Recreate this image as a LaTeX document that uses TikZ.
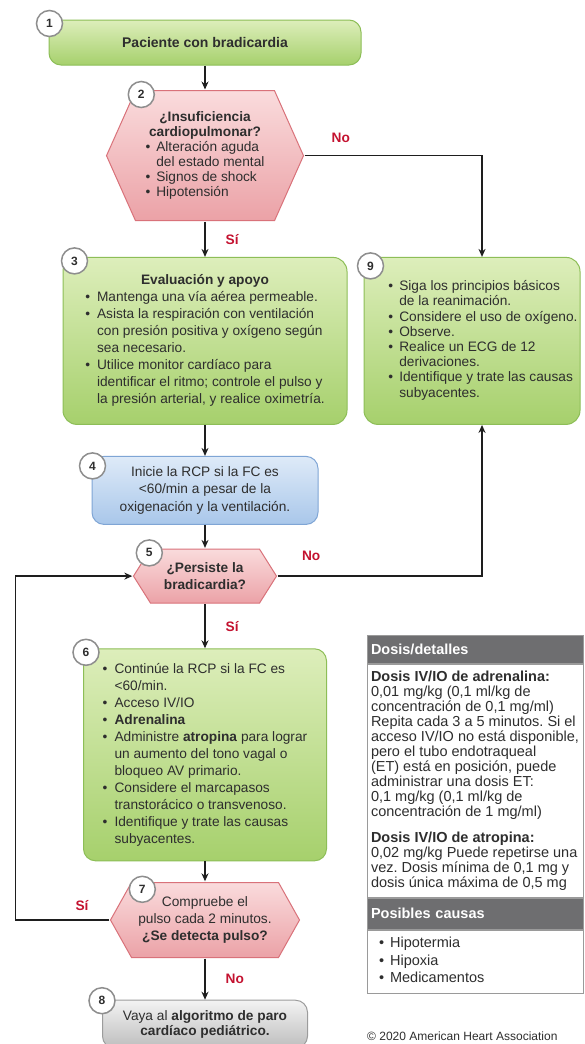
\documentclass[tikz,border=0pt]{standalone}
\usepackage{fontspec}
\setmainfont{Liberation Sans}
\usetikzlibrary{arrows.meta,positioning,calc,shapes}
\frenchspacing

\definecolor{gTop}{HTML}{DDEEBB}
\definecolor{gBot}{HTML}{A6D06C}
\definecolor{gLine}{HTML}{8DBE57}
\definecolor{rTop}{HTML}{FADCDD}
\definecolor{rBot}{HTML}{EBA1A6}
\definecolor{rLine}{HTML}{D9727A}
\definecolor{bTop}{HTML}{DEEAF8}
\definecolor{bBot}{HTML}{A9C7EA}
\definecolor{bLine}{HTML}{7FA5D5}
\definecolor{yTop}{HTML}{F3F3F3}
\definecolor{yBot}{HTML}{BDBDBD}
\definecolor{yLine}{HTML}{9C9C9C}
\definecolor{pHead}{HTML}{6E6E70}
\definecolor{pLine}{HTML}{9A9A9A}
\definecolor{cLine}{HTML}{8E8E8E}
\definecolor{lblc}{HTML}{C41230}
\definecolor{txt}{HTML}{2E2E2E}
\definecolor{arrc}{HTML}{1E1E1E}

\tikzset{hexa/.style={inner sep=0pt, align=center, text=txt,
  font=\fontsize{13.7}{17}\selectfont,
  path picture={
    \path[draw=rLine, line width=1pt, top color=rTop, bottom color=rBot]
      ([xshift=1pt]path picture bounding box.west)
      -- ([shift={(#1,-1pt)}]path picture bounding box.north west)
      -- ([shift={(-#1,-1pt)}]path picture bounding box.north east)
      -- ([xshift=-1pt]path picture bounding box.east)
      -- ([shift={(-#1,1pt)}]path picture bounding box.south east)
      -- ([shift={(#1,1pt)}]path picture bounding box.south west) -- cycle;}}}

\begin{document}
\begin{tikzpicture}[x=1pt,y=1pt,>={Stealth[length=8pt,width=7pt]}]
\tikzstyle{box}=[rounded corners=12pt, inner sep=0pt, line width=1pt, align=center, text=txt, font=\fontsize{13.7}{17}\selectfont]
\tikzstyle{gbox}=[box, draw=gLine, top color=gTop, bottom color=gBot]
\tikzstyle{bbox}=[box, draw=bLine, top color=bTop, bottom color=bBot]
\tikzstyle{ybox}=[box, draw=yLine, top color=yTop, bottom color=yBot]
\tikzstyle{num}=[circle, draw=cLine, line width=1.5pt, fill=white, minimum size=26pt, inner sep=0pt, text=txt, font=\fontsize{12}{12}\selectfont\bfseries]
\tikzstyle{lbl}=[inner sep=0pt, text=lblc, font=\fontsize{13.7}{15}\selectfont\bfseries]
\tikzstyle{arr}=[->, line width=1.4pt, draw=arrc]
\tikzstyle{phead}=[fill=pHead, draw=pLine, line width=1pt, text=white, font=\fontsize{14.5}{15}\selectfont\bfseries, minimum width=216pt, text width=208pt, align=left, inner sep=0pt]
\tikzstyle{pbody}=[draw=pLine, line width=1pt, fill=white, text=txt, minimum width=216pt, inner sep=0pt, align=left]

\path[use as bounding box, fill=white] (0,0) rectangle (584,-1044);

% main column
\node[gbox, minimum width=312pt, minimum height=45pt, font=\fontsize{14}{17}\selectfont\bfseries] (n1) at (205,-42.5) {Paciente con bradicardia};
\node[hexa=30pt, minimum width=199pt, minimum height=132pt, font=\fontsize{13.7}{15}\selectfont] (n2) [below=24pt of n1] {%
\begin{tabular}{@{}l@{\hspace{6pt}}l@{}}
\multicolumn{2}{@{}c@{}}{\bfseries ¿Insuficiencia}\\
\multicolumn{2}{@{}c@{}}{\bfseries cardiopulmonar?}\\
\textbullet & Alteración aguda\\
 & del estado mental\\
\textbullet & Signos de shock\\
\textbullet & Hipotensión
\end{tabular}};
\node[gbox, minimum width=284pt, minimum height=167pt, rounded corners=14pt] (n3) [below=35pt of n2] {%
\begin{tabular}{@{}l@{\hspace{7pt}}l@{}}
\multicolumn{2}{@{}c@{}}{\bfseries Evaluación y apoyo}\\
\textbullet & Mantenga una vía aérea permeable.\\
\textbullet & Asista la respiración con ventilación\\
 & con presión positiva y oxígeno según\\
 & sea necesario.\\
\textbullet & Utilice monitor cardíaco para\\
 & identificar el ritmo; controle el pulso y\\
 & la presión arterial, y realice oximetría.
\end{tabular}};
\node[gbox, minimum width=216pt, minimum height=167pt, rounded corners=14pt, font=\fontsize{13.7}{15.2}\selectfont] (n9) [right=16pt of n3.north east, anchor=north west] {%
\hspace*{22pt}\begin{tabular}{@{}l@{\hspace{6pt}}l@{}}
\textbullet & Siga los principios básicos\\
 & de la reanimación.\\
\textbullet & Considere el uso de oxígeno.\\
\textbullet & Observe.\\
\textbullet & Realice un ECG de 12\\
 & derivaciones.\\
\textbullet & Identifique y trate las causas\\
 & subyacentes.
\end{tabular}};
\node[bbox, minimum width=226pt, minimum height=68pt, font=\fontsize{13.7}{17.5}\selectfont] (n4) [below=31pt of n3] {Inicie la RCP si la FC es\\<60/min a pesar de la\\oxigenación y la ventilación.};
\node[hexa=18pt, minimum width=145pt, minimum height=56pt, font=\fontsize{13.7}{17}\selectfont\bfseries] (n5) [below=23pt of n4] {¿Persiste la\\bradicardia?};
\node[gbox, minimum width=243pt, minimum height=212pt] (n6) [below=44pt of n5] {%
\begin{tabular}{@{}l@{\hspace{7pt}}l@{}}
\textbullet & Continúe la RCP si la FC es\\
 & <60/min.\\
\textbullet & Acceso IV/IO\\
\textbullet & \textbf{Adrenalina}\\
\textbullet & Administre \textbf{atropina} para lograr\\
 & un aumento del tono vagal o\\
 & bloqueo AV primario.\\
\textbullet & Considere el marcapasos\\
 & transtorácico o transvenoso.\\
\textbullet & Identifique y trate las causas\\
 & subyacentes.
\end{tabular}};
\node[hexa=22pt, minimum width=191pt, minimum height=77pt] (n7) [below=20pt of n6] {Compruebe el\\pulso cada 2 minutos.\\\textbf{¿Se detecta pulso?}};
\node[ybox, minimum width=205pt, minimum height=48pt, font=\fontsize{13.7}{15}\selectfont] (n8) [below=41pt of n7] {Vaya al \textbf{algoritmo de paro}\\\textbf{cardíaco pediátrico.}};

% side panel
\node[phead, minimum height=28pt] (hdose) at (475,-649) {Dosis/detalles};
\node[pbody, minimum height=233pt, font=\fontsize{14.5}{15}\selectfont] (tdose) [below=0pt of hdose] {%
\textbf{Dosis IV/IO de adrenalina:}\\
0,01 mg/kg (0,1 ml/kg de\\
concentración de 0,1 mg/ml)\\
Repita cada 3 a 5 minutos. Si el\\
acceso IV/IO no está disponible,\\
pero el tubo endotraqueal\\
(ET) está en posición, puede\\
administrar una dosis ET:\\
0,1 mg/kg (0,1 ml/kg de\\
concentración de 1 mg/ml)\\[11pt]
\textbf{Dosis IV/IO de atropina:}\\
0,02 mg/kg Puede repetirse una\\
vez. Dosis mínima de 0,1 mg y\\
dosis única máxima de 0,5 mg};
\node[phead, minimum height=31pt] (hcause) [below=0pt of tdose] {Posibles causas};
\node[pbody, minimum height=63pt, text width=192pt, font=\fontsize{14.5}{17.5}\selectfont] (tcause) [below=0pt of hcause] {%
\begin{tabular}{@{}l@{\hspace{6pt}}l@{}}
\textbullet & Hipotermia\\
\textbullet & Hipoxia\\
\textbullet & Medicamentos
\end{tabular}};
\node[anchor=base west, inner sep=0pt, text=txt, font=\fontsize{12}{14}\selectfont] (copy) at (367,-1040) {© 2020 American Heart Association};

% connectors
\draw[arr] (n1) -- (n2);
\draw[arr] (n2) -- node[lbl, right=20pt] {Sí} (n3);
\draw[arr] (n2.east) -| node[lbl, pos=0.102, above=12pt] {No} ([xshift=10pt]n9.north);
\draw[arr] (n3) -- (n4);
\draw[arr] (n4) -- (n5);
\draw[arr] (n5.east) -| node[lbl, pos=0.082, above=15pt] {No} ([xshift=10pt]n9.south);
\draw[arr] (n5) -- node[lbl, right=20pt] {Sí} (n6);
\draw[arr] (n6) -- (n7);
\draw[arr] (n7) -- node[lbl, right=20pt] {No} (n8);
\draw[arr] (n7.west) -- node[lbl, pos=0.29, above=9pt] {Sí} ++(-94,0) |- (n5.west);

% step numbers
\node[num] (b1) at ([shift={(1,-4)}]n1.north west) {1};
\node[num] (b2) at ([shift={(36,-5)}]n2.north west) {2};
\node[num] (b3) at ([shift={(12,-4)}]n3.north west) {3};
\node[num] (b9) at ([shift={(7,-9)}]n9.north west) {9};
\node[num] (b4) at ([shift={(1,-10)}]n4.north west) {4};
\node[num] (b5) at ([shift={(17,-5)}]n5.north west) {5};
\node[num] (b6) at ([shift={(3,-4)}]n6.north west) {6};
\node[num] (b7) at ([shift={(33,-8)}]n7.north west) {7};
\node[num] (b8) at ([shift={(0,-1)}]n8.north west) {8};
\end{tikzpicture}
\end{document}
